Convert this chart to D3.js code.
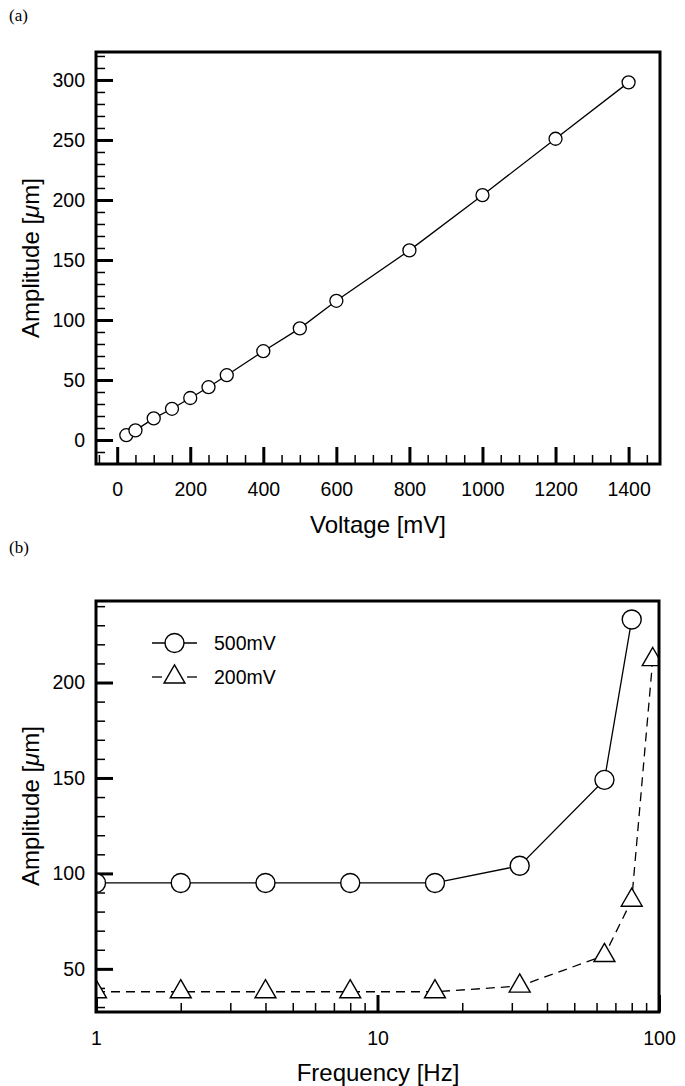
<!DOCTYPE html>
<html>
<head>
<meta charset="utf-8">
<script src="https://cdn.jsdelivr.net/npm/d3@7"></script>
<style>
  body { margin: 0; background: #fff; }
  svg { display: block; font-family: "Liberation Sans", Arial, Helvetica, sans-serif; }
</style>
</head>
<body>
<div id="chart"></div>
<script>
// panel (a): amplitude vs voltage
const voltage = [25, 50, 100, 150, 200, 250, 300, 400, 500, 600, 800, 1000, 1200, 1400];
const amplitudeA = [4, 8, 18, 26, 35, 44, 54, 74, 93, 116, 158, 204, 251, 298];
const voltTicks = [0, 200, 400, 600, 800, 1000, 1200, 1400];
const ampTicksA = [0, 50, 100, 150, 200, 250, 300];

// panel (b): amplitude vs frequency
const freq500 = [1, 2, 4, 8, 16, 32, 64, 80];
const amp500 = [95, 95, 95, 95, 95, 104, 149, 233];
const freq200 = [1, 2, 4, 8, 16, 32, 64, 80, 95];
const amp200 = [38, 38, 38, 38, 38, 41, 57, 86, 212];
const freqTicks = [1, 10, 100];
const ampTicksB = [50, 100, 150, 200];
const legendLabels = ['500mV', '200mV'];

const W = 685, H = 1086;
const svg = d3.select('#chart').append('svg')
  .attr('width', W).attr('height', H)
  .attr('viewBox', [0, 0, W, H].join(' '));

const left = 96, right = 660;

// scales
const xA = d3.scaleLinear().domain([-58, 1486]).range([left, right]);
const yA = d3.scaleLinear().domain([-20, 323.3]).range([464, 52]);
const xB = d3.scaleLog().domain([1, 100]).range([left, 659]);
const yB = d3.scaleLinear().domain([27.4, 242.7]).range([1012, 601]);

const clip = (id, x, y) => {
  svg.append('clipPath').attr('id', id)
    .append('rect')
    .attr('x', x.range()[0]).attr('y', y.range()[1])
    .attr('width', x.range()[1] - x.range()[0])
    .attr('height', y.range()[0] - y.range()[1]);
};
clip('clipA', xA, yA);
clip('clipB', xB, yB);

const styleAxis = (g, w) => {
  g.attr('font-family', null).attr('font-size', null);
  g.select('.domain').remove();
  g.selectAll('.tick line').attr('stroke', '#000').attr('stroke-width', w);
  g.selectAll('.tick text').attr('fill', '#000').style('font-size', '19.5px');
};

// axes for panel (a)
const minorXA = d3.range(-50, 1486, 50).filter(v => v % 200 !== 0);
const minorYA = d3.range(-10, 323, 10).filter(v => v % 50 !== 0);

svg.append('g').attr('transform', `translate(0,${yA.range()[0]})`)
  .call(d3.axisBottom(xA).tickValues(minorXA).tickSize(-9).tickFormat(''))
  .call(g => styleAxis(g, 1.5));
svg.append('g').attr('transform', `translate(0,${yA.range()[0]})`)
  .call(d3.axisBottom(xA).tickValues(voltTicks).tickSize(-17).tickPadding(18).tickFormat(d3.format('d')))
  .call(g => styleAxis(g, 3));
svg.append('g').attr('transform', `translate(${left},0)`)
  .call(d3.axisLeft(yA).tickValues(minorYA).tickSize(-9).tickFormat(''))
  .call(g => styleAxis(g, 1.5));
svg.append('g').attr('transform', `translate(${left},0)`)
  .call(d3.axisLeft(yA).tickValues(ampTicksA).tickSize(-17).tickPadding(11))
  .call(g => styleAxis(g, 3));

// axes for panel (b)
const minorXB = [];
[1, 10].forEach(d => { for (let i = 2; i <= 9; i++) minorXB.push(d * i); });
const minorYB = d3.range(30, 243, 10).filter(v => v % 50 !== 0);

svg.append('g').attr('transform', `translate(0,${yB.range()[0]})`)
  .call(d3.axisBottom(xB).tickValues(minorXB).tickSize(-9).tickFormat(''))
  .call(g => styleAxis(g, 1.5));
svg.append('g').attr('transform', `translate(0,${yB.range()[0]})`)
  .call(d3.axisBottom(xB).tickValues(freqTicks).tickSize(-17).tickPadding(19).tickFormat(d3.format('d')))
  .call(g => styleAxis(g, 3));
svg.append('g').attr('transform', `translate(${left},0)`)
  .call(d3.axisLeft(yB).tickValues(minorYB).tickSize(-9).tickFormat(''))
  .call(g => styleAxis(g, 1.5));
svg.append('g').attr('transform', `translate(${left},0)`)
  .call(d3.axisLeft(yB).tickValues(ampTicksB).tickSize(-17).tickPadding(11))
  .call(g => styleAxis(g, 3));

// data panel (a)
const lineA = d3.line().x((d, i) => xA(voltage[i])).y(d => yA(d));
const plotA = svg.append('g').attr('clip-path', 'url(#clipA)');
plotA.append('path').datum(amplitudeA)
  .attr('fill', 'none').attr('stroke', '#000').attr('stroke-width', 1.3)
  .attr('d', lineA);
plotA.selectAll('circle').data(amplitudeA).join('circle')
  .attr('cx', (d, i) => xA(voltage[i])).attr('cy', d => yA(d))
  .attr('r', 6.5).attr('fill', '#fff').attr('stroke', '#000').attr('stroke-width', 1.3);

// data panel (b)
const plotB = svg.append('g').attr('clip-path', 'url(#clipB)');
const tri = d3.symbol().type(d3.symbolTriangle).size(190);

plotB.append('path').datum(amp200)
  .attr('fill', 'none').attr('stroke', '#000').attr('stroke-width', 1.3)
  .attr('stroke-dasharray', '9,6')
  .attr('d', d3.line().x((d, i) => xB(freq200[i])).y(d => yB(d)));
plotB.append('path').datum(amp500)
  .attr('fill', 'none').attr('stroke', '#000').attr('stroke-width', 1.3)
  .attr('d', d3.line().x((d, i) => xB(freq500[i])).y(d => yB(d)));
plotB.selectAll('.tri').data(amp200).join('path').attr('class', 'tri')
  .attr('transform', (d, i) => `translate(${xB(freq200[i])},${yB(d)})`)
  .attr('d', tri).attr('fill', '#fff').attr('stroke', '#000').attr('stroke-width', 1.4);
plotB.selectAll('circle').data(amp500).join('circle')
  .attr('cx', (d, i) => xB(freq500[i])).attr('cy', d => yB(d))
  .attr('r', 9.5).attr('fill', '#fff').attr('stroke', '#000').attr('stroke-width', 1.4);

// legend
const leg = svg.append('g').attr('transform', 'translate(152,643)');
leg.append('line').attr('x1', 0).attr('x2', 45).attr('y1', 0).attr('y2', 0)
  .attr('stroke', '#000').attr('stroke-width', 1.3);
leg.append('circle').attr('cx', 22.5).attr('cy', 0).attr('r', 9.5)
  .attr('fill', '#fff').attr('stroke', '#000').attr('stroke-width', 1.4);
leg.append('line').attr('x1', 0).attr('x2', 10).attr('y1', 34).attr('y2', 34)
  .attr('stroke', '#000').attr('stroke-width', 1.3);
leg.append('line').attr('x1', 35).attr('x2', 45).attr('y1', 34).attr('y2', 34)
  .attr('stroke', '#000').attr('stroke-width', 1.3);
leg.append('path').attr('transform', 'translate(22.5,34)').attr('d', tri)
  .attr('fill', '#fff').attr('stroke', '#000').attr('stroke-width', 1.4);
leg.selectAll('text').data(legendLabels).join('text')
  .attr('x', 62).attr('y', (d, i) => i * 34).attr('dy', '0.35em')
  .style('font-size', '19.5px').text(d => d);

// frames
[[xA, yA], [xB, yB]].forEach(([x, y]) => {
  svg.append('rect')
    .attr('x', x.range()[0]).attr('y', y.range()[1])
    .attr('width', x.range()[1] - x.range()[0])
    .attr('height', y.range()[0] - y.range()[1])
    .attr('fill', 'none').attr('stroke', '#000').attr('stroke-width', 3);
});

// titles
const yTitle = cy => {
  const t = svg.append('text')
    .attr('transform', `translate(39,${cy}) rotate(-90)`)
    .attr('text-anchor', 'middle').style('font-size', '24px');
  t.append('tspan').text('Amplitude [');
  t.append('tspan').style('font-style', 'italic').text('\u03bc');
  t.append('tspan').text('m]');
};
yTitle(258);
yTitle(806);

svg.append('text').attr('x', 378).attr('y', 533).attr('text-anchor', 'middle')
  .style('font-size', '24px').text('Voltage [mV]');
svg.append('text').attr('x', 378).attr('y', 1081).attr('text-anchor', 'middle')
  .style('font-size', '24px').text('Frequency [Hz]');

svg.append('text').attr('x', 9).attr('y', 21)
  .style('font-family', '"Liberation Serif", "Times New Roman", serif')
  .style('font-size', '17px').text('(a)');
svg.append('text').attr('x', 9).attr('y', 553)
  .style('font-family', '"Liberation Serif", "Times New Roman", serif')
  .style('font-size', '17px').text('(b)');
</script>
</body>
</html>
